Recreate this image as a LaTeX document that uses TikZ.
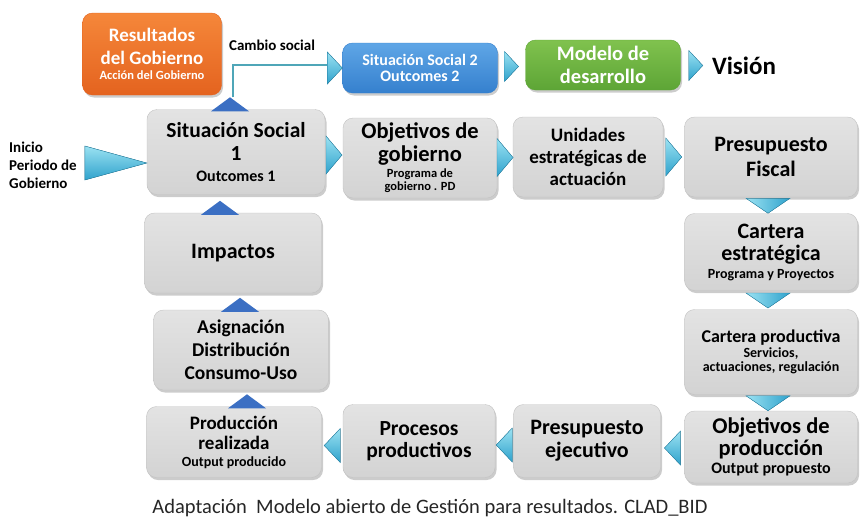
\documentclass[tikz,border=0pt]{standalone}
\usepackage{fontspec}
\setmainfont{Carlito}
\usetikzlibrary{calc,shadows}
\definecolor{mgGrayTop}{HTML}{E3E3E3}
\definecolor{mgGrayBot}{HTML}{D3D3D3}
\definecolor{mgGrayLine}{HTML}{C2C2C2}
\definecolor{mgOrangeTop}{HTML}{F5873A}
\definecolor{mgOrangeBot}{HTML}{E4631F}
\definecolor{mgBlueTop}{HTML}{5FA6E6}
\definecolor{mgBlueBot}{HTML}{3580CE}
\definecolor{mgGreenTop}{HTML}{80C24E}
\definecolor{mgGreenBot}{HTML}{5DA536}
\definecolor{mgCyanTop}{HTML}{9BE2F2}
\definecolor{mgCyanBot}{HTML}{2FA2CC}
\definecolor{mgCyanLine}{HTML}{2A8BAF}
\definecolor{mgUp}{HTML}{3B6FC3}
\definecolor{mgLinkCol}{HTML}{4FA6B8}
\newcommand{\mgSub}[2]{{\fontsize{#1}{#1}\selectfont #2}}
\begin{document}
\begin{tikzpicture}[
    x=1pt, y=-1pt,
    mgSize/.style 2 args={minimum width=#1pt, minimum height=#2pt},
    mgFont/.style 2 args={font=\bfseries\fontsize{#1}{#2}\selectfont},
    mgBox/.style={rounded corners=10pt, draw=mgGrayLine, top color=mgGrayTop, bottom color=mgGrayBot,
        align=center, inner sep=1pt,
        drop shadow={shadow xshift=1.5pt, shadow yshift=-2.5pt, opacity=.4}},
    mgColBox/.style={mgBox, text=white, draw=#1Bot, top color=#1Top, bottom color=#1Bot},
    mgLabel/.style={inner sep=1pt},
    mgArrowR/.style={draw=mgCyanLine, line width=.4pt, top color=mgCyanTop, bottom color=mgCyanBot},
    mgArrowD/.style={draw=mgCyanLine, line width=.4pt, left color=mgCyanTop, right color=mgCyanBot},
    mgArrowU/.style={fill=mgUp},
    mgLink/.style={draw=mgLinkCol, line width=2.6pt}
]
\useasboundingbox (0,0) rectangle (860,520);

% top row
\node[mgColBox=mgOrange, mgSize={139}{82}, mgFont={19}{23}] (resgob) at (152,54)
    {Resultados\\del Gobierno\\[-8pt]\mgSub{12.5}{Acción del Gobierno}};
\node[mgColBox=mgBlue, mgSize={155}{50}, mgFont={16}{16}] (sit2) at (420,68)
    {Situación Social 2\\\mgSub{16}{Outcomes 2}};
\node[mgColBox=mgGreen, mgSize={155}{50}, mgFont={20.5}{23}] (modelo) at (603,65)
    {Modelo de\\desarrollo};
\node[mgLabel, mgFont={25}{28}] (vision) at (744,66) {Visión};
\node[mgLabel, mgFont={15}{17}] (cambio) at (272,45) {Cambio social};

% main loop
\node[mgBox, mgSize={178}{85}, mgFont={21.5}{23}] (sit1) at (236,152)
    {Situación Social\\1\\[-2pt]\mgSub{16}{Outcomes 1}};
\node[mgBox, mgSize={154}{80}, mgFont={22.5}{23}] (objgob) at (420,158)
    {Objetivos de\\gobierno\\[-7pt]\mgSub{12.5}{Programa de}\\[-10pt]\mgSub{12.5}{gobierno . PD}};
\node[mgBox, mgSize={150}{80}, mgFont={19}{22}] (unidades) at (588,157)
    {Unidades\\estratégicas de\\actuación};
\node[mgBox, mgSize={173}{80}, mgFont={22}{25}] (presfis) at (771,157)
    {Presupuesto\\Fiscal};
\node[mgBox, mgSize={173}{77}, mgFont={22}{22}] (cartest) at (771,252)
    {Cartera\\estratégica\\[-4pt]\mgSub{14}{Programa y Proyectos}};
\node[mgBox, mgSize={173}{85}, mgFont={18}{21}] (cartprod) at (771,352)
    {Cartera productiva\\[-6pt]\mgSub{14}{Servicios,}\\[-7pt]\mgSub{14}{actuaciones, regulación}};
\node[mgBox, mgSize={173}{72}, mgFont={22.5}{22}] (objprod) at (771,447)
    {Objetivos de\\producción\\[-4pt]\mgSub{16}{Output propuesto}};
\node[mgBox, mgSize={147}{73}, mgFont={22}{23}] (presej) at (587,441)
    {Presupuesto\\ejecutivo};
\node[mgBox, mgSize={152}{73}, mgFont={21.5}{22}] (procesos) at (419,441)
    {Procesos\\productivos};
\node[mgBox, mgSize={175}{71}, mgFont={19}{20}] (prodreal) at (234,442)
    {Producción\\realizada\\[-3pt]\mgSub{14}{Output producido}};
\node[mgBox, mgSize={175}{80}, mgFont={19.5}{23}] (asign) at (241,350)
    {Asignación\\Distribución\\Consumo-Uso};
\node[mgBox, mgSize={177}{80}, mgFont={22}{25}] (impactos) at (233,253)
    {Impactos};

% start label and caption
\node[mgLabel, anchor=west, align=left, mgFont={15}{18}] (inicio) at (8,165)
    {Inicio\\Periodo de\\Gobierno};
\node[mgLabel, text=black!85, font=\fontsize{20.5}{23}\selectfont] (caption) at (430,508)
    {Adaptación\ \ Modelo abierto de Gestión para resultados. CLAD\_BID};

% arrow heads
\fill[mgArrowR] ($(sit1.west)+(0,11)$) +(-62,-17) -- +(0,0) -- +(-62,17) -- cycle;
\foreach \a/\b in {sit1/objgob, objgob/unidades, unidades/presfis}
    \fill[mgArrowR] ($(\a.east)!.5!(\b.west)$) +(-8,-19) -- +(8,0) -- +(-8,19) -- cycle;
\foreach \a/\b in {sit2/modelo, modelo/vision}
    \fill[mgArrowR] ($(\a.east)!.5!(\b.west)$) +(-7,-15) -- +(7,0) -- +(-7,15) -- cycle;
\foreach \a/\b in {presfis/cartest, cartest/cartprod, cartprod/objprod}
    \fill[mgArrowD] ($(\a.south)!.5!(\b.north)+(-3,0)$) +(-22,-7) -- +(22,-7) -- +(0,8) -- cycle;
\foreach \a/\b in {objprod/presej, presej/procesos, procesos/prodreal}
    \fill[mgArrowR] ($(\a.west)!.5!(\b.east)+(0,4)$) +(8,-17) -- +(-8,0) -- +(8,17) -- cycle;
\foreach \b/\dx in {prodreal/13, asign/-1, impactos/-13, sit1/-6}
    \fill[mgArrowU] ($(\b.north)+(\dx,2)$) +(-19,0) -- +(0,-14) -- +(19,0) -- cycle;

% cambio social link
\coordinate (linkend) at ($(sit2.west)+(-15,-3)$);
\draw[mgLink] ($(sit1.north)+(-3,-12)$) |- (linkend);
\fill[mgArrowR] ($(linkend)+(0,3)$) +(0,-16) -- +(15,0) -- +(0,16) -- cycle;
\end{tikzpicture}
\end{document}
